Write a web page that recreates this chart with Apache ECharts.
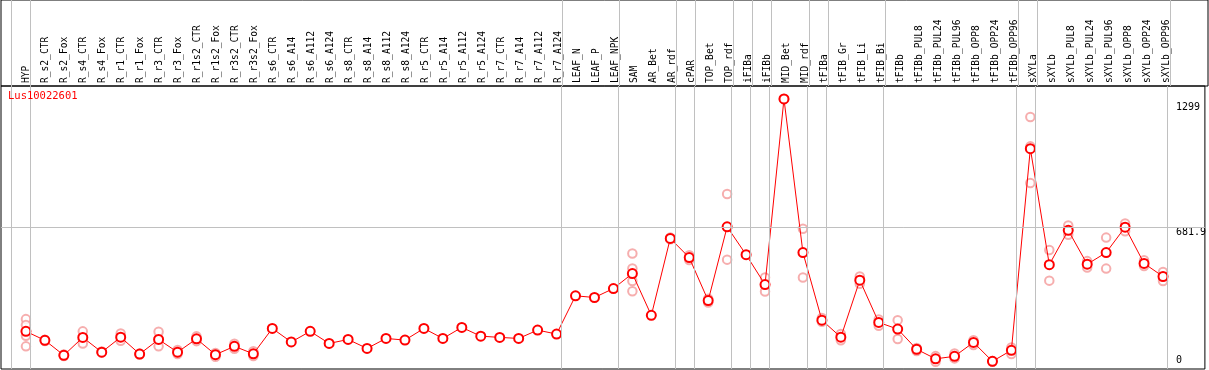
<!DOCTYPE html>
<html><head><meta charset="utf-8">
<script src="https://cdn.jsdelivr.net/npm/echarts@6/dist/echarts.min.js"></script>
<style>html,body{margin:0;padding:0;background:#fff}#c{width:1209px;height:370px}</style>
</head><body><div id="c"></div>
<script>
const geneName = 'Lus10022601';
const categories = ['HYP','R_s2_CTR','R_s2_Fox','R_s4_CTR','R_s4_Fox','R_r1_CTR','R_r1_Fox','R_r3_CTR','R_r3_Fox','R_r1s2_CTR','R_r1s2_Fox','R_r3s2_CTR','R_r3s2_Fox','R_s6_CTR','R_s6_A14','R_s6_A112','R_s6_A124','R_s8_CTR','R_s8_A14','R_s8_A112','R_s8_A124','R_r5_CTR','R_r5_A14','R_r5_A112','R_r5_A124','R_r7_CTR','R_r7_A14','R_r7_A112','R_r7_A124','LEAF_N','LEAF_P','LEAF_NPK','SAM','AR_Bet','AR_rdf','cPAR','TOP_Bet','TOP_rdf','iFIBa','iFIBb','MID_Bet','MID_rdf','tFIBa','tFIB_Gr','tFIB_Li','tFIB_Bi','tFIBb','tFIBb_PUL8','tFIBb_PUL24','tFIBb_PUL96','tFIBb_OPP8','tFIBb_OPP24','tFIBb_OPP96','sXYLa','sXYLb','sXYLb_PUL8','sXYLb_PUL24','sXYLb_PUL96','sXYLb_OPP8','sXYLb_OPP24','sXYLb_OPP96'];
const means = [181,138,66,152,81,153,72,142,81,145,69,109,73,195,130,181,123,142,99,147,139,195,147,200,158,152,147,187,168,352,344,387,459,258,628,536,329,684,550,406,1299,560,235,153,427,224,192,95,49,61,128,37,90,1060,502,667,504,560,682,508,445];
const replicates = [
  [240,212,160,109],[135,141],[62,70],[181,123],[79,84],[171,136],[70,74],[179,109],[91,72],[157,134],[77,59],[122,97],[85,62],
  [],[],[],[],[],[],[],[],[],[],[],[],[],[],[],[],
  [],[],[],
  [556,484,423,374],[],[624,632],[547,524],[320,338],[842,526],[],[440,373],[1299,1298],[675,440],
  [227,245],[138,168],[445,410],[238,208],[235,144],[101,86],[35,62],[75,51],[138,115],[35,39],[104,72],
  [1212,1071,895],[572,425],[690,646],[519,488],[632,483],[700,663],[523,495],[467,423]
];
const yTickValues = [0, 681.9, 1299];
const gridLineValue = 681.9;
const separatorsAfter = [-1,0,28,31,34,35,37,38,39,41,42,45,52,53,60];

const meanData = means.map((v,i)=>[i,v]);
const repData = [];
replicates.forEach((arr,i)=>arr.forEach(v=>repData.push([i,v])));

const STEP = 19, FIRST = 26, LEFT = 1, WIDTH = 1207;
const XMIN = -(FIRST-LEFT)/STEP, XMAX = XMIN + WIDTH/STEP;
const SEP = 4.6/STEP;
const mono = 'DejaVu Sans Mono';
const gray = '#c0c0c0';
const sepLines = separatorsAfter.map(i=>({xAxis: i+SEP}));

const chart = echarts.init(document.getElementById('c'), null, {renderer:'canvas'});
chart.setOption({
  animation:false,
  backgroundColor:'#fff',
  title:{text:geneName, left:8, top:91, padding:0, textStyle:{color:'#ff0000', fontSize:10.5, fontWeight:'normal', fontFamily:mono}},
  grid:[
    {left:LEFT, width:WIDTH, top:0, height:86, show:true, borderColor:'#000', borderWidth:1, containLabel:false},
    {left:LEFT, width:WIDTH, top:86, bottom:1, show:true, borderColor:'#000', borderWidth:1, containLabel:false},
    {left:16.5, width:1159, top:0, height:86, containLabel:false}
  ],
  xAxis:[
    {gridIndex:0, type:'value', min:XMIN, max:XMAX, show:false},
    {gridIndex:1, type:'value', min:XMIN, max:XMAX, show:false},
    {gridIndex:2, type:'category', data:categories, position:'bottom', boundaryGap:true,
     axisLine:{show:false}, axisTick:{show:false}, splitLine:{show:false},
     axisLabel:{inside:true, rotate:90, margin:3, interval:0, fontFamily:mono, fontSize:9.6, color:'#000'}}
  ],
  yAxis:[
    {gridIndex:0, type:'value', min:0, max:1, show:false},
    {gridIndex:1, type:'value', min:0, max:1361.3, position:'right',
     axisLine:{show:false}, axisTick:{show:false}, splitLine:{show:false},
     axisLabel:{inside:true, customValues:yTickValues, margin:29, align:'left', verticalAlign:'middle',
       fontFamily:mono, fontSize:10, color:'#000',
       formatter:(v)=> v===0 ? '{b|0}' : (v===1299 ? '{t|1299}' : '{m|'+v+'}'),
       rich:{b:{padding:[0,0,18,0], fontFamily:mono, fontSize:10}, t:{padding:[16,0,0,0], fontFamily:mono, fontSize:10}, m:{padding:[10,0,0,0], fontFamily:mono, fontSize:10}}}},
    {gridIndex:2, type:'value', show:false}
  ],
  series:[
    {type:'line', xAxisIndex:0, yAxisIndex:0, data:[], silent:true,
     markLine:{silent:true, symbol:'none', label:{show:false}, lineStyle:{color:gray, type:'solid', width:1}, data:sepLines}},
    {type:'scatter', xAxisIndex:1, yAxisIndex:1, data:repData, symbol:'emptyCircle', symbolSize:8.5, z:2,
     itemStyle:{color:'#f49a9a', borderColor:'#f49a9a', borderWidth:1.5},
     markLine:{silent:true, symbol:'none', label:{show:false}, lineStyle:{color:gray, type:'solid', width:1},
       data:[...sepLines, {yAxis:gridLineValue}]}},
    {type:'line', xAxisIndex:1, yAxisIndex:1, data:meanData, symbol:'emptyCircle', symbolSize:9, z:3,
     lineStyle:{color:'#ff0000', width:1}, itemStyle:{color:'#ff0000', borderColor:'#ff0000', borderWidth:1.5}}
  ]
});
</script></body></html>
